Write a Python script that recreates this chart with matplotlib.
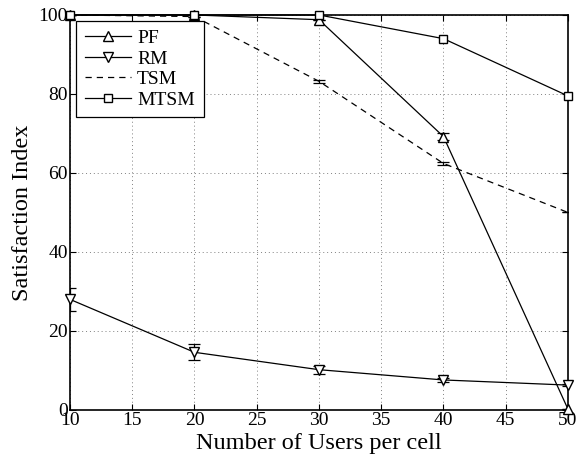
import numpy as np
import matplotlib.pyplot as plt

plt.rcParams['font.family'] = 'Liberation Serif'

users = [10, 20, 30, 40, 50]
pf = [100, 100, 98.8, 69.2, 0.2]
pf_err = [0, 0, 0, 0.8, 0]
rm = [28, 14.6, 10.2, 7.6, 6.3]
rm_err = [3, 2, 1, 0.5, 0.3]
tsm = [100, 99.6, 83.2, 62.4, 50]
tsm_err = [0, 0, 0.3, 0.3, 0]
mtsm = [100, 100, 100, 94, 79.5]

fig = plt.figure(figsize=(5.77, 4.59), dpi=100)
ax = fig.add_axes([0.1213, 0.1068, 0.8631, 0.8606])

# error bars first, lines and markers on top
for vals, err in [(pf, pf_err), (rm, rm_err), (tsm, tsm_err)]:
    ax.errorbar(users, vals, yerr=err, fmt='none', ecolor='k', elinewidth=0.9,
                capsize=4, capthick=0.9)

ax.plot(users, pf, color='k', lw=0.9, marker='^', ms=7.5, mfc='white',
        mec='k', clip_on=False, label='PF', zorder=4)
ax.plot(users, rm, color='k', lw=0.9, marker='v', ms=7.5, mfc='white',
        mec='k', clip_on=False, label='RM', zorder=4)
ax.plot(users, tsm, color='k', lw=0.9, ls='--', dashes=(5, 4), label='TSM')
ax.plot(users, mtsm, color='k', lw=0.9, marker='s', ms=6, mfc='white',
        mec='k', clip_on=False, label='MTSM', zorder=4)

ax.set_xlim(10, 50)
ax.set_ylim(0, 100)
ax.set_xticks(np.arange(10, 51, 5))
ax.set_yticks(np.arange(0, 101, 20))
ax.grid(True, ls=(0, (1, 3)), color='gray', lw=0.7)
ax.tick_params(direction='in', labelsize=14, length=4, top=True, right=True, pad=1.5)
for s in ax.spines.values():
    s.set_linewidth(1.2)

ax.set_xlabel('Number of Users per cell', fontsize=17.5, labelpad=3)
ax.set_ylabel('Satisfaction Index', fontsize=17.5, labelpad=4)

leg = ax.legend(loc='upper left', fontsize=14, frameon=True, fancybox=False,
                edgecolor='k', framealpha=1, borderpad=0.45, labelspacing=0.15,
                handlelength=2.4, handletextpad=0.3, borderaxespad=0.3)
leg.get_frame().set_linewidth(0.9)

fig.savefig('out.png', dpi=100)
